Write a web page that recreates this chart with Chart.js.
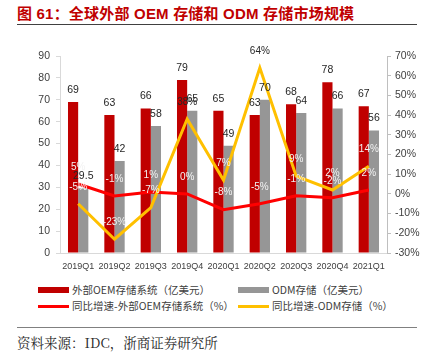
<!DOCTYPE html>
<html><head><meta charset="utf-8">
<script src="https://cdn.jsdelivr.net/npm/chart.js@4/dist/chart.umd.min.js"></script>
<style>
body{margin:0;width:427px;height:357px;background:#fff;position:relative;overflow:hidden;font-family:"Liberation Sans","Noto Sans CJK SC",sans-serif;}
#title{position:absolute;left:17px;top:2px;font-weight:bold;font-size:15px;font-family:"Liberation Sans","Noto Sans CJK SC",sans-serif;color:#c00000;white-space:nowrap;letter-spacing:0.2px;}
#tline{position:absolute;left:17px;top:24px;width:400px;height:0;border-top:1.5px solid #404040;}
#wrap{position:absolute;left:0;top:30px;width:427px;height:250px;}
.lg{position:absolute;font-size:10.5px;color:#404040;white-space:nowrap;font-family:"Noto Sans CJK SC",sans-serif;line-height:14px;}
.sw{position:absolute;}
#bline{position:absolute;left:17px;top:327px;width:400px;height:0;border-top:1.5px solid #808080;}
#src{position:absolute;left:17px;top:332px;font-size:13.5px;color:#262626;white-space:nowrap;font-family:"Noto Serif CJK SC","Noto Sans CJK SC",serif;}
</style></head>
<body>
<div id="title">图 61：全球外部 OEM 存储和 ODM 存储市场规模</div>
<div id="tline"></div>
<div id="wrap"><canvas id="c" width="427" height="250"></canvas></div>
<div class="sw" style="left:38px;top:287px;width:31px;height:6px;background:#c00000"></div>
<div class="lg" style="left:72px;top:283px">外部OEM存储系统（亿美元）</div>
<div class="sw" style="left:238px;top:287px;width:31px;height:6px;background:#969696"></div>
<div class="lg" style="left:272px;top:283px">ODM存储（亿美元）</div>
<div class="sw" style="left:38px;top:305px;width:31px;height:2.5px;background:#ff0000"></div>
<div class="lg" style="left:72px;top:299px">同比增速-外部OEM存储系统（%）</div>
<div class="sw" style="left:238px;top:305px;width:31px;height:2.5px;background:#ffc000"></div>
<div class="lg" style="left:272px;top:299px">同比增速-ODM存储（%）</div>
<div id="bline"></div>
<div id="src">资料来源：IDC，浙商证券研究所</div>
<script>
const categories = ['2019Q1','2019Q2','2019Q3','2019Q4','2020Q1','2020Q2','2020Q3','2020Q4','2021Q1'];
const oemValues = [69, 63, 66, 79, 65, 63, 68, 78, 67];
const odmValues = [29.5, 42, 58, 65, 49, 70, 64, 66, 56];
const oemGrowth = [5, -1, 1, 0, -8, -5, -1, -2, 2];
const odmGrowth = [-5, -23, -7, 38, 7, 64, 9, 2, 14];
const leftTicks = [0, 10, 20, 30, 40, 50, 60, 70, 80, 90];
const rightTicks = [-30, -20, -10, 0, 10, 20, 30, 40, 50, 60, 70];

const odmLabelColors = ['#f2f2f2','#f2f2f2','#f2f2f2','#262626','#f2f2f2','#262626','#f2f2f2','#f2f2f2','#f2f2f2'];
const NUM_FONT = '"Liberation Sans"';

const labelPlugin = {
  id: 'vlabels',
  afterDatasetsDraw(chart) {
    const ctx = chart.ctx;
    chart.data.datasets.forEach((ds, i) => {
      const meta = chart.getDatasetMeta(i);
      ctx.save();
      ctx.textAlign = 'center';
      ctx.textBaseline = 'middle';
      meta.data.forEach((el, j) => {
        const v = ds.data[j];
        if (ds.type === 'bar') {
          ctx.font = '10.5px ' + NUM_FONT;
          ctx.fillStyle = '#262626';
          ctx.fillText(String(v), el.x, el.y - 12);
        } else {
          ctx.font = '10px ' + NUM_FONT;
          ctx.fillStyle = ds.labelColors ? ds.labelColors[j] : '#f2f2f2';
          ctx.fillText(v + '%', el.x, el.y - 17);
        }
      });
      ctx.restore();
    });
  }
};

const tickFont = {family: NUM_FONT, size: 10.5};

new Chart(document.getElementById('c'), {
  data: {
    labels: categories,
    datasets: [
      {type: 'bar', label: '外部OEM存储系统（亿美元）', data: oemValues, backgroundColor: '#c00000', yAxisID: 'y', order: 2, barPercentage: 1, categoryPercentage: 0.56},
      {type: 'bar', label: 'ODM存储（亿美元）', data: odmValues, backgroundColor: '#969696', yAxisID: 'y', order: 2, barPercentage: 1, categoryPercentage: 0.56},
      {type: 'line', label: '同比增速-外部OEM存储系统（%）', data: oemGrowth, borderColor: '#ff0000', backgroundColor: '#ff0000', borderWidth: 3, pointRadius: 0, tension: 0, yAxisID: 'y1', order: 1},
      {type: 'line', label: '同比增速-ODM存储（%）', data: odmGrowth, borderColor: '#ffc000', backgroundColor: '#ffc000', borderWidth: 3, pointRadius: 0, tension: 0, yAxisID: 'y1', order: 0, labelColors: odmLabelColors}
    ]
  },
  options: {
    responsive: false,
    animation: false,
    devicePixelRatio: 1,
    layout: {padding: {top: 26, bottom: 0, left: 0, right: 0}},
    plugins: {legend: {display: false}, tooltip: {enabled: false}},
    scales: {
      x: {
        grid: {drawOnChartArea: false, drawTicks: false, color: '#d9d9d9'},
        border: {color: '#d9d9d9'},
        ticks: {font: {family: NUM_FONT, size: 9}, color: '#404040', maxRotation: 0, autoSkip: false, padding: 8},
        afterFit: s => { s.height = 27; }
      },
      y: {
        position: 'left', min: 0, max: 90,
        afterBuildTicks: s => { s.ticks = leftTicks.map(v => ({value: v})); },
        grid: {drawOnChartArea: false, drawTicks: true, tickLength: 4, color: '#d9d9d9'},
        border: {color: '#d9d9d9'},
        ticks: {font: tickFont, color: '#404040', padding: 6},
        afterFit: s => { s.width = 60; }
      },
      y1: {
        position: 'right', min: -30, max: 70,
        afterBuildTicks: s => { s.ticks = rightTicks.map(v => ({value: v})); },
        grid: {drawOnChartArea: false, drawTicks: true, tickLength: 4, color: '#bfbfbf'},
        border: {color: '#bfbfbf'},
        ticks: {font: tickFont, color: '#404040', padding: 4, callback: v => v + '%'},
        afterFit: s => { s.width = 40; }
      }
    }
  },
  plugins: [labelPlugin]
});
</script>
</body></html>
